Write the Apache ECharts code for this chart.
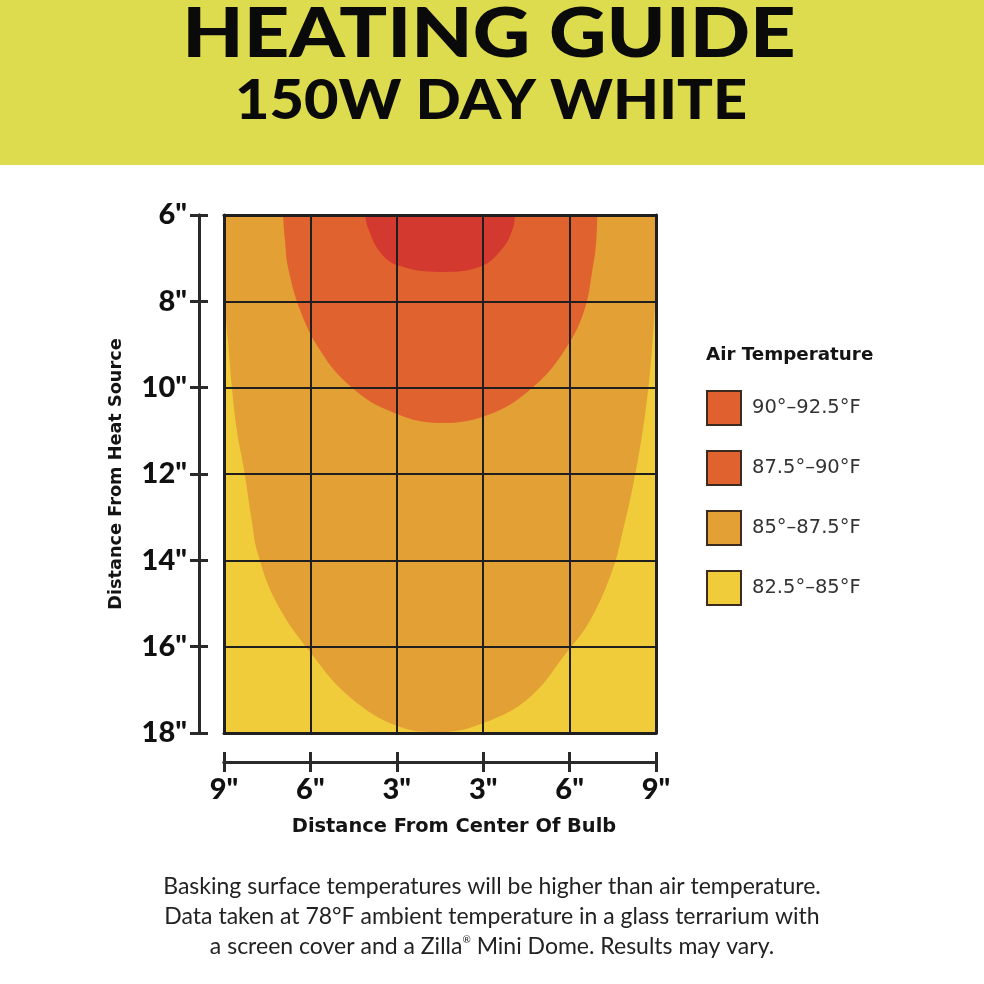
<!DOCTYPE html>
<html>
<head>
<meta charset="utf-8">
<script src="https://cdn.jsdelivr.net/npm/echarts@6/dist/echarts.min.js"></script>
<style>
html,body{margin:0;padding:0;background:#fff;}
#chart{width:984px;height:984px;}
</style>
</head>
<body>
<div id="chart"></div>
<script>
// ---- data ----
const titleMain = 'HEATING GUIDE';
const titleSub = '150W DAY WHITE';
const xTickLabels = ['9"', '6"', '3"', '3"', '6"', '9"'];
const X_MIN = 0, X_MAX = 5;
const Y_MIN = 6, Y_MAX = 18, Y_STEP = 2;
const xAxisName = 'Distance From Center Of Bulb';
const yAxisName = 'Distance From Heat Source';
const legendTitle = 'Air Temperature';
const bandNames = ['90°–92.5°F', '87.5°–90°F', '85°–87.5°F', '82.5°–85°F'];
// boundaries of the warmer zones: [x position (grid columns), distance in inches]
const edge85 = [[0,7.9],[0.045,8.9],[0.092,10.0],[0.15,11.0],[0.24,12.0],[0.315,13.0],[0.39,13.83],[0.61,14.99],[0.995,16.12],[1.458,17.17],[2.04,17.86],[2.5,17.98],[3.0,17.77],[3.54,17.17],[3.97,16.12],[4.24,15.38],[4.5,14.2],[4.63,13.2],[4.74,12.2],[4.83,11.2],[4.9,10.2],[4.95,9.2],[4.985,8.2],[5,7.7]];
const edge875 = [[0.683,6.0],[0.706,6.58],[0.74,7.2],[0.88,8.2],[1.11,9.13],[1.42,9.89],[1.89,10.52],[2.5,10.82],[3.11,10.59],[3.58,9.98],[3.92,9.2],[4.16,8.27],[4.27,7.2],[4.31,6.58],[4.32,6.0]];
const edge90 = [[1.632,6.0],[1.667,6.3],[1.806,6.86],[2.0,7.16],[2.5,7.32],[2.963,7.2],[3.229,6.76],[3.345,6.3],[3.368,6.0]];
const notes = [
  'Basking surface temperatures will be higher than air temperature.',
  'Data taken at 78°F ambient temperature in a glass terrarium with',
  'a screen cover and a Zilla{sup|®} Mini Dome. Results may vary.'
];

// ---- styles ----
const FONT = 'Lato, "Noto Sans", sans-serif';
const BOLD = '"DejaVu Sans", sans-serif';
const bandColors = ['#d3392f', '#e0622f', '#e3a034', '#f0cb3a'];
const legendColors = ['#e0612f', '#e0622f', '#e3a034', '#f0cb3a'];
const INK = '#1f1f1f';

const chart = echarts.init(document.getElementById('chart'), null, {renderer: 'canvas'});

function area(name, data, color, z) {
  return {
    name, type: 'line', data, z,
    smooth: 0.4,
    symbol: 'none', silent: true,
    lineStyle: {width: 0},
    itemStyle: {color},
    areaStyle: {color, opacity: 1, origin: 'start'}
  };
}

const baseX = {type: 'value', min: X_MIN, max: X_MAX, interval: 1, gridIndex: 0};
const baseY = {type: 'value', min: Y_MIN, max: Y_MAX, interval: Y_STEP, inverse: true, gridIndex: 0};
const axisLabelFont = {fontSize: 29, fontWeight: 900, color: '#111', fontFamily: FONT};
function lineAxis(base, extra) {
  return Object.assign({}, base, {
    axisLine: {show: true, onZero: false, lineStyle: {color: INK, width: 3}},
    axisTick: {show: false}, axisLabel: {show: false}, splitLine: {show: false}
  }, extra);
}

const option = {
  animation: false,
  backgroundColor: '#ffffff',
  graphic: [
    {type: 'rect', left: 0, top: 0, shape: {width: 984, height: 165}, style: {fill: '#dddc4e'}, z: -10},
    {type: 'text', x: 489, y: 0, scaleX: 1.15,
      style: {text: titleMain, x: 0, y: 0, align: 'center', verticalAlign: 'top', font: '900 69px ' + FONT, fill: '#0a0a0a'}},
    {type: 'text', x: 491, y: 73, scaleX: 1.063,
      style: {text: titleSub, x: 0, y: 0, align: 'center', verticalAlign: 'top', font: '900 56px ' + FONT, fill: '#0a0a0a'}},
    {type: 'text', left: 706, top: 346, style: {text: legendTitle, font: 'bold 18.3px ' + BOLD, fill: '#141414'}},
    ...notes.map((t, i) => ({
      type: 'text', left: 'center', top: 875 + i * 30,
      style: {text: t, font: '23px ' + FONT, fill: '#222',
        rich: {sup: {fontSize: 10, verticalAlign: 'top', padding: [0, 0, 12, 0], fontFamily: FONT, fill: '#222'}}}
    }))
  ],
  legend: {
    orient: 'vertical', left: 706, top: 390, padding: 0,
    itemWidth: 34, itemHeight: 34, itemGap: 24,
    icon: 'rect', selectedMode: false,
    itemStyle: {borderColor: '#3d2b1f', borderWidth: 2},
    textStyle: {fontSize: 19.5, color: '#333', fontFamily: '"DejaVu Sans", sans-serif', padding: [0, 0, 0, 6]},
    data: bandNames.map((n, i) => ({name: n, itemStyle: {color: legendColors[i]}}))
  },
  grid: {left: 224, top: 215, width: 432, height: 518, containLabel: false},
  xAxis: [
    Object.assign({}, baseX, {
      position: 'bottom', offset: 29, z: 5,
      axisLine: {show: true, onZero: false, lineStyle: {color: '#2a2a2a', width: 3}},
      axisTick: {show: true, length: 10, lineStyle: {color: '#2a2a2a', width: 3}},
      axisLabel: Object.assign({margin: 13, formatter: v => xTickLabels[Math.round(v)]}, axisLabelFont),
      splitLine: {show: true, lineStyle: {color: INK, width: 2}},
      name: xAxisName, nameLocation: 'middle', nameGap: 55,
      nameTextStyle: {fontSize: 19.4, fontWeight: 'bold', color: '#141414', fontFamily: BOLD, padding: [0, 0, 0, 28]}
    }),
    Object.assign({}, baseX, {
      position: 'bottom', offset: 29, z: 5,
      axisLine: {show: true, onZero: false, lineStyle: {color: '#2a2a2a', width: 3}},
      axisTick: {show: true, inside: true, length: 10, lineStyle: {color: '#2a2a2a', width: 3}},
      axisLabel: {show: false}, splitLine: {show: false}
    }),
    lineAxis(baseX, {position: 'top', offset: 0, z: 6}),
    lineAxis(baseX, {position: 'bottom', offset: 0, z: 6})
  ],
  yAxis: [
    Object.assign({}, baseY, {
      position: 'left', offset: 25, z: 5,
      axisLine: {show: true, onZero: false, lineStyle: {color: '#2a2a2a', width: 3}},
      axisTick: {show: true, length: 9, lineStyle: {color: '#2a2a2a', width: 3}},
      axisLabel: Object.assign({margin: 12, formatter: v => v + '"'}, axisLabelFont),
      splitLine: {show: true, lineStyle: {color: INK, width: 2}},
      name: yAxisName, nameLocation: 'middle', nameGap: 74, nameRotate: 90,
      nameTextStyle: {fontSize: 17.7, fontWeight: 'bold', color: '#141414', fontFamily: BOLD}
    }),
    Object.assign({}, baseY, {
      position: 'left', offset: 25, z: 5,
      axisLine: {show: true, onZero: false, lineStyle: {color: '#2a2a2a', width: 3}},
      axisTick: {show: true, inside: true, length: 9, lineStyle: {color: '#2a2a2a', width: 3}},
      axisLabel: {show: false}, splitLine: {show: false}
    }),
    lineAxis(baseY, {position: 'left', offset: 0, z: 6}),
    lineAxis(baseY, {position: 'right', offset: 0, z: 6})
  ],
  series: [
    area(bandNames[3], [[X_MIN, Y_MAX], [X_MAX, Y_MAX]], bandColors[3], 1),
    area(bandNames[2], edge85, bandColors[2], 2),
    area(bandNames[1], edge875, bandColors[1], 3),
    area(bandNames[0], edge90, bandColors[0], 4)
  ]
};
chart.setOption(option);
</script>
</body>
</html>
